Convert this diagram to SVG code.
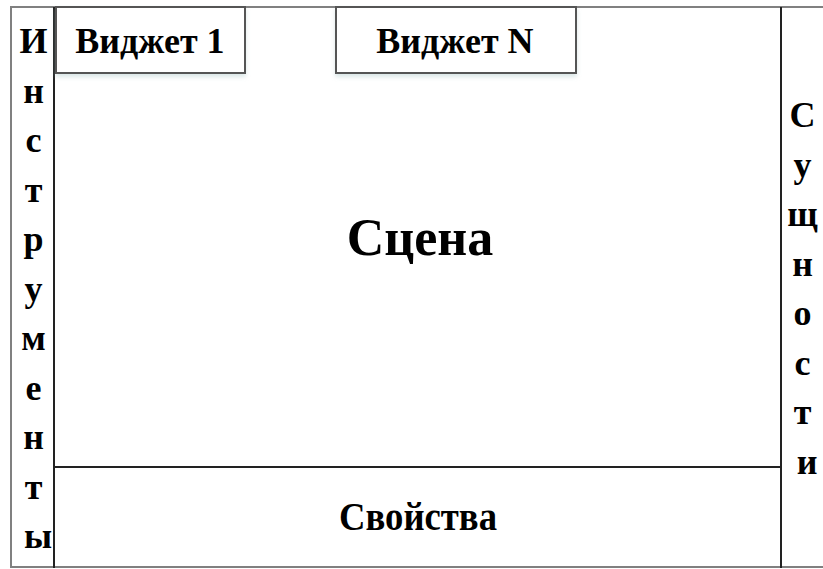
<svg xmlns="http://www.w3.org/2000/svg" width="823" height="569" viewBox="0 0 823 569">
<style>
.t{font-family:"Liberation Serif","Times New Roman",serif;font-weight:bold;fill:#000;text-anchor:middle}
.v{font-size:36px}
.w{fill:#fff;stroke:#555;stroke-width:2}
.ln{stroke:#222;stroke-width:2;fill:none}
</style>
<defs>
<filter id="sh" x="-10%" y="-10%" width="120%" height="140%">
<feDropShadow dx="0" dy="3" stdDeviation="2" flood-color="#9bb" flood-opacity="0.35"/>
</filter>
</defs>
<rect width="823" height="569" fill="#fff"/>
<g id="frame">
<path d="M824 7 H11 V567 H824" fill="none" stroke="#808080" stroke-width="2"/>
</g>
<g id="connectors">
<line class="ln" x1="54" y1="7" x2="54" y2="568"/>
<line class="ln" x1="781" y1="7" x2="781" y2="568"/>
<line class="ln" x1="54" y1="467" x2="781" y2="467"/>
</g>
<g id="tools">
<text class="t v">
<tspan x="38" y="53">И</tspan>
<tspan x="38" y="102.5">н</tspan>
<tspan x="38" y="152">с</tspan>
<tspan x="38" y="201.5">т</tspan>
<tspan x="38" y="251">р</tspan>
<tspan x="38" y="300.5">у</tspan>
<tspan x="38" y="350">м</tspan>
<tspan x="38" y="399.5">е</tspan>
<tspan x="38" y="449">н</tspan>
<tspan x="38" y="498.5">т</tspan>
<tspan x="38" y="548">ы</tspan>
</text>
</g>
<g id="entities">
<text class="t v">
<tspan x="807" y="127">С</tspan>
<tspan x="807" y="176.5">у</tspan>
<tspan x="807" y="226">щ</tspan>
<tspan x="807" y="275.5">н</tspan>
<tspan x="807" y="325">о</tspan>
<tspan x="807" y="374.5">с</tspan>
<tspan x="807" y="424">т</tspan>
<tspan x="807" y="473.5">и</tspan>
</text>
</g>
<g id="widget1">
<rect class="w" x="56" y="7" width="189" height="66" filter="url(#sh)"/>
<text class="t v" x="150" y="53">Виджет 1</text>
</g>
<g id="widgetN">
<rect class="w" x="336" y="7" width="240" height="66" filter="url(#sh)"/>
<text class="t v" x="455" y="53">Виджет N</text>
</g>
<g id="scene">
<text class="t" x="420" y="255" font-size="52">Сцена</text>
</g>
<g id="properties">
<text class="t" x="418" y="530" font-size="39" textLength="158" lengthAdjust="spacingAndGlyphs">Свойства</text>
</g>
</svg>
